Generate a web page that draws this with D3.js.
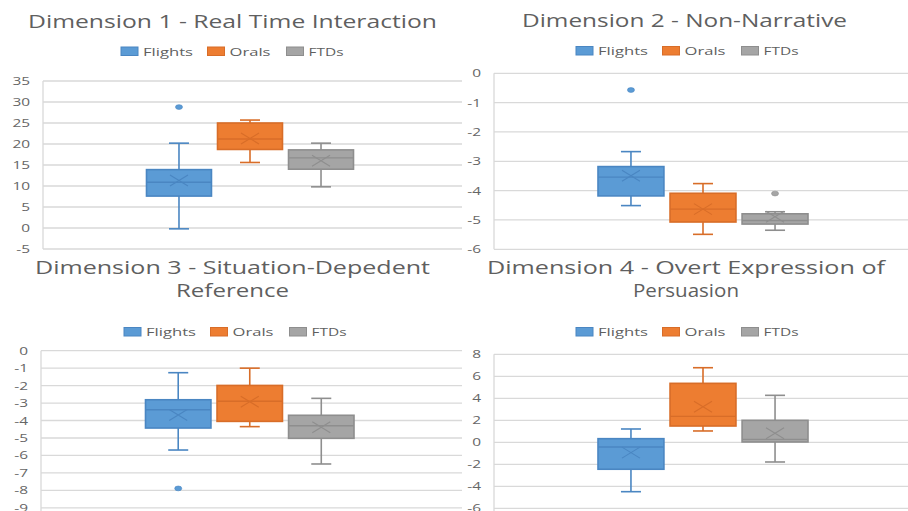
<!DOCTYPE html>
<html>
<head>
<meta charset="utf-8">
<script src="https://cdn.jsdelivr.net/npm/d3@7"></script>
<style>
  html, body { margin: 0; padding: 0; background: #fff; }
  svg { display: block; }
  text { font-family: "Open Sans", "Liberation Sans", sans-serif; }
</style>
</head>
<body>
<svg id="chart" width="908" height="511"></svg>
<script>
// Groups compared in every panel
const categories = ["Flights", "Orals", "FTDs"];
const seriesFill = ["#5b9bd5", "#ed7d31", "#a5a5a5"];
const seriesStroke = ["#4a86c2", "#d86d28", "#8e8e8e"];

// Box summaries per group: [lower whisker, Q1, median, Q3, upper whisker, mean]
const dim1Title = ["Dimension 1 - Real Time Interaction"];
const dim1Stats = [
  [-0.2, 7.6, 10.9, 13.9, 20.2, 11.3],
  [15.6, 18.7, 21.2, 25.0, 25.7, 21.3],
  [9.8, 14.0, 16.7, 18.6, 20.2, 16.0]
];
const dim1Outliers = [[28.8], [], []];
const dim1Ticks = [-5, 0, 5, 10, 15, 20, 25, 30, 35];

const dim2Title = ["Dimension 2 - Non-Narrative"];
const dim2Stats = [
  [-4.51, -4.18, -3.54, -3.18, -2.67, -3.49],
  [-5.49, -5.07, -4.63, -4.09, -3.76, -4.63],
  [-5.35, -5.14, -5.02, -4.79, -4.72, -4.89]
];
const dim2Outliers = [[-0.57], [], [-4.10]];
const dim2Ticks = [-6, -5, -4, -3, -2, -1, 0];

const dim3Title = ["Dimension 3 - Situation-Depedent", "Reference"];
const dim3Stats = [
  [-5.69, -4.43, -3.38, -2.81, -1.26, -3.68],
  [-4.35, -4.05, -2.90, -1.99, -1.00, -2.92],
  [-6.49, -5.02, -4.30, -3.70, -2.73, -4.39]
];
const dim3Outliers = [[-7.89], [], []];
const dim3Ticks = [-9, -8, -7, -6, -5, -4, -3, -2, -1, 0];

const dim4Title = ["Dimension 4 - Overt Expression of", "Persuasion"];
const dim4Stats = [
  [-4.49, -2.45, -0.43, 0.33, 1.21, -0.94],
  [1.03, 1.48, 2.36, 5.36, 6.78, 3.24],
  [-1.79, 0.03, 0.27, 2.00, 4.27, 0.82]
];
const dim4Outliers = [[], [], []];
const dim4Ticks = [-6, -4, -2, 0, 2, 4, 6, 8];

// Panel layout
const panels = [
  { title: dim1Title, stats: dim1Stats, outliers: dim1Outliers, ticks: dim1Ticks,
    left: 43, right: 462, yRange: [249, 81], frameBottom: 249,
    boxRange: [146.5, 353.5],
    titleX: 232.5, titleY: [28], titleW: [409],
    legendX: 121, legendY: 47 },
  { title: dim2Title, stats: dim2Stats, outliers: dim2Outliers, ticks: dim2Ticks,
    left: 494, right: 908, yRange: [249.3, 73.3], frameBottom: 249.3,
    boxRange: [598, 808],
    titleX: 684.5, titleY: [26.5], titleW: [325],
    legendX: 576, legendY: 46.5 },
  { title: dim3Title, stats: dim3Stats, outliers: dim3Outliers, ticks: dim3Ticks,
    left: 41, right: 462, yRange: [507.8, 350.7], frameBottom: 511,
    boxRange: [145.5, 354],
    titleX: 232.5, titleY: [274, 296.5], titleW: [395, 113],
    legendX: 124, legendY: 327.5 },
  { title: dim4Title, stats: dim4Stats, outliers: dim4Outliers, ticks: dim4Ticks,
    left: 494, right: 908, yRange: [508.3, 354.3], frameBottom: 511,
    boxRange: [598, 808],
    titleX: 686, titleY: [274, 296.5], titleW: [398, 106],
    legendX: 576, legendY: 327.5 }
];

const legendOffsets = [0, 86.5, 165.5];
const legendTextW = [50, 41, 35];
const gridColor = "#d9d9d9";
const textColor = "#5f5f5f";
const tickColor = "#666666";
const tickStretch = 1.4;

const svg = d3.select("#chart");

panels.forEach(p => {
  const g = svg.append("g");
  const ext = d3.extent(p.ticks);
  const y = d3.scaleLinear().domain(ext).range(p.yRange);
  const x = d3.scaleBand().domain(categories).range(p.boxRange).paddingInner(0.085).paddingOuter(0);
  const bw = x.bandwidth();

  // gridlines
  g.append("g").selectAll("line").data(p.ticks).join("line")
    .attr("x1", p.left).attr("x2", p.right)
    .attr("y1", d => y(d)).attr("y2", d => y(d))
    .attr("stroke", gridColor).attr("stroke-width", 1.3);

  // vertical frame line
  g.append("line")
    .attr("x1", p.left).attr("x2", p.left)
    .attr("y1", y(ext[1])).attr("y2", p.frameBottom)
    .attr("stroke", gridColor).attr("stroke-width", 1.3);

  // y axis labels
  const axis = g.append("g")
    .attr("transform", `translate(${p.left},0)`)
    .call(d3.axisLeft(y).tickValues(p.ticks).tickSize(0).tickPadding(13).tickFormat(d => String(d)));
  axis.select(".domain").remove();
  axis.selectAll("text")
    .attr("fill", tickColor)
    .style("font-size", "11px")
    .style("font-family", "'Open Sans', sans-serif");
  axis.selectAll("text").each(function () {
    const w = this.getComputedTextLength();
    d3.select(this).attr("textLength", w * tickStretch).attr("lengthAdjust", "spacingAndGlyphs");
  });

  // boxes
  const boxes = g.append("g").selectAll("g").data(p.stats).join("g")
    .attr("transform", (d, i) => `translate(${x(categories[i])},0)`);

  // whiskers
  boxes.append("line")
    .attr("x1", bw / 2).attr("x2", bw / 2)
    .attr("y1", d => y(d[4])).attr("y2", d => y(d[3]))
    .attr("stroke", (d, i) => seriesStroke[i]).attr("stroke-width", 1.6);
  boxes.append("line")
    .attr("x1", bw / 2).attr("x2", bw / 2)
    .attr("y1", d => y(d[1])).attr("y2", d => y(d[0]))
    .attr("stroke", (d, i) => seriesStroke[i]).attr("stroke-width", 1.6);
  // whisker caps
  [0, 4].forEach(k => {
    boxes.append("line")
      .attr("x1", bw / 2 - 10).attr("x2", bw / 2 + 10)
      .attr("y1", d => y(d[k])).attr("y2", d => y(d[k]))
      .attr("stroke", (d, i) => seriesStroke[i]).attr("stroke-width", 1.6);
  });
  // box body
  boxes.append("rect")
    .attr("x", 0).attr("width", bw)
    .attr("y", d => y(d[3])).attr("height", d => y(d[1]) - y(d[3]))
    .attr("fill", (d, i) => seriesFill[i])
    .attr("stroke", (d, i) => seriesStroke[i]).attr("stroke-width", 1.6);
  // median
  boxes.append("line")
    .attr("x1", 0).attr("x2", bw)
    .attr("y1", d => y(d[2])).attr("y2", d => y(d[2]))
    .attr("stroke", (d, i) => seriesStroke[i]).attr("stroke-width", 1.4);
  // mean marker (x)
  boxes.append("path")
    .attr("d", d => {
      const cx = bw / 2, cy = y(d[5]), hw = 9, hh = 5.5;
      return `M${cx - hw},${cy - hh}L${cx + hw},${cy + hh}M${cx - hw},${cy + hh}L${cx + hw},${cy - hh}`;
    })
    .attr("fill", "none")
    .attr("stroke", (d, i) => seriesStroke[i]).attr("stroke-width", 1.1);

  // outliers
  p.outliers.forEach((vals, i) => {
    g.append("g").selectAll("ellipse").data(vals).join("ellipse")
      .attr("cx", x(categories[i]) + bw / 2)
      .attr("cy", d => y(d))
      .attr("rx", 3.5).attr("ry", 2.4)
      .attr("fill", seriesFill[i])
      .attr("stroke", seriesStroke[i]).attr("stroke-width", 0.6);
  });

  // title
  p.title.forEach((line, j) => {
    g.append("text")
      .attr("x", p.titleX).attr("y", p.titleY[j])
      .attr("text-anchor", "middle")
      .attr("fill", textColor)
      .style("font-size", "19px")
      .attr("textLength", p.titleW[j]).attr("lengthAdjust", "spacingAndGlyphs")
      .text(line);
  });

  // legend
  const lg = g.append("g").attr("transform", `translate(${p.legendX},${p.legendY})`);
  categories.forEach((c, i) => {
    lg.append("rect")
      .attr("x", legendOffsets[i]).attr("y", 0)
      .attr("width", 17).attr("height", 8.5)
      .attr("fill", seriesFill[i])
      .attr("stroke", seriesStroke[i]).attr("stroke-width", 1);
    lg.append("text")
      .attr("x", legendOffsets[i] + 22).attr("y", 8.5)
      .attr("fill", textColor)
      .style("font-size", "11px")
      .attr("textLength", legendTextW[i]).attr("lengthAdjust", "spacingAndGlyphs")
      .text(c);
  });
});
</script>
</body>
</html>
